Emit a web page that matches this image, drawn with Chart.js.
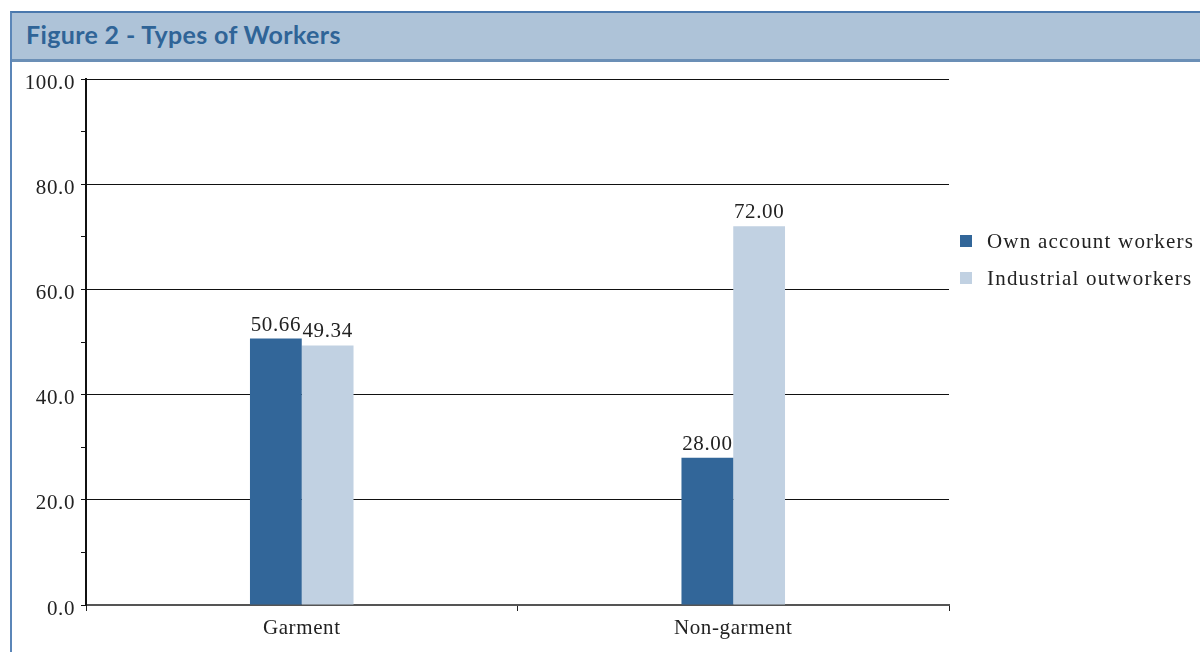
<!DOCTYPE html>
<html>
<head>
<meta charset="utf-8">
<script src="https://cdn.jsdelivr.net/npm/chart.js@4"></script>
<style>
  body { margin: 0; background: #fff; }
  #wrap { position: relative; width: 1200px; height: 652px; overflow: hidden; }
  #frame { position: absolute; left: 10px; top: 11px; width: 1200px; height: 700px;
           border-left: 2px solid #5b86b8; border-top: 2px solid #4a78ad; }
  #head { position: absolute; left: 12px; top: 13px; width: 1188px; height: 46px;
          background: #aec3d8; border-bottom: 3px solid #6b8fb6; }
  #head span { position: absolute; left: 14px; top: 6px; font: bold 25px Lato, "Open Sans", sans-serif;
               color: #2f6497; letter-spacing: 0.35px; }
  canvas { position: absolute; left: 0; top: 0; }
</style>
</head>
<body>
<div id="wrap">
  <div id="frame"></div>
  <div id="head"><span>Figure 2 - Types of Workers</span></div>
  <canvas id="chart" width="1200" height="652"></canvas>
</div>
<script>
const categories = ["Garment", "Non-garment"];
const ownAccount = [50.66, 28.00];
const outworkers = [49.34, 72.00];
const seriesNames = ["Own account workers", "Industrial outworkers"];
const colors = ["#326699", "#c1d1e2"];

const serif = "'Liberation Serif', 'DejaVu Serif', serif";

// a bit of letter spacing to get closer to the Palatino look
const spacing = {
  id: 'spacing',
  beforeDraw(chart) { chart.ctx.letterSpacing = '0.6px'; }
};

// numbers above bars
const valueLabels = {
  id: 'valueLabels',
  afterDatasetsDraw(chart) {
    const ctx = chart.ctx;
    ctx.save();
    ctx.font = '21px ' + serif;
    ctx.letterSpacing = '0.6px';
    ctx.fillStyle = '#222';
    ctx.textAlign = 'center';
    ctx.textBaseline = 'bottom';
    chart.data.datasets.forEach((ds, i) => {
      chart.getDatasetMeta(i).data.forEach((bar, j) => {
        ctx.fillText(ds.data[j].toFixed(2), bar.x, bar.y - 3);
      });
    });
    ctx.restore();
  }
};

// legend on the right
const sideLegend = {
  id: 'sideLegend',
  afterDraw(chart) {
    const ctx = chart.ctx;
    ctx.save();
    ctx.font = '21px ' + serif;
    ctx.letterSpacing = '1.2px';
    ctx.textBaseline = 'middle';
    chart.data.datasets.forEach((ds, i) => {
      const y = 241 + i * 37;
      ctx.fillStyle = ds.backgroundColor;
      ctx.fillRect(960, y - 6, 12, 12);
      ctx.fillStyle = '#222';
      ctx.fillText(ds.label, 987, y + 1);
    });
    ctx.restore();
  }
};

new Chart(document.getElementById('chart'), {
  type: 'bar',
  data: {
    labels: categories,
    datasets: [
      { label: seriesNames[0], data: ownAccount, backgroundColor: colors[0] },
      { label: seriesNames[1], data: outworkers, backgroundColor: colors[1] }
    ]
  },
  options: {
    responsive: false,
    animation: false,
    categoryPercentage: 0.24,
    barPercentage: 1.0,
    layout: { padding: { left: 12, right: 251, top: 79, bottom: 0 } },
    plugins: { legend: { display: false }, tooltip: { enabled: false } },
    scales: {
      x: {
        grid: { offset: true, drawOnChartArea: false, tickLength: 6, color: '#333', tickColor: '#222' },
        border: { color: '#555', width: 2 },
        ticks: { color: '#222', font: { family: serif, size: 21 }, padding: 5 },
        afterFit(scale) { scale.height = 47; }
      },
      y: {
        min: 0, max: 100,
        ticks: {
          stepSize: 10,
          color: '#222',
          font: { family: serif, size: 21 },
          padding: 6,
          labelOffset: 4,
          callback: v => v % 20 === 0 ? v.toFixed(1) : ''
        },
        grid: {
          tickLength: 5,
          color: c => (c.tick && c.tick.value % 20 === 0 && c.tick.value > 0) ? '#111' : 'rgba(0,0,0,0)',
          tickColor: '#111',
          lineWidth: 1
        },
        border: { color: '#111', width: 2 },
        afterFit(scale) { scale.width = 74; }
      }
    }
  },
  plugins: [spacing, valueLabels, sideLegend]
});
</script>
</body>
</html>
